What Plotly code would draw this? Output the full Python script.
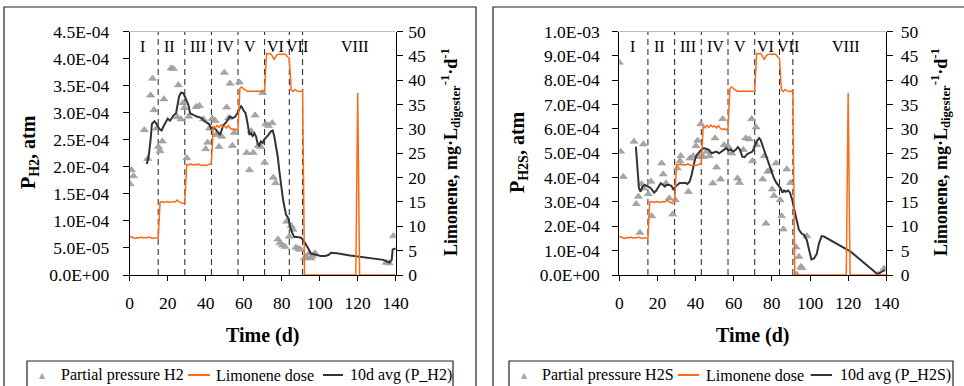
import plotly.graph_objects as go

# ---------------- data ----------------
dose_day = list(range(141))
dose_val = [
    7.7, 7.9, 7.6, 7.5, 7.7, 7.6, 7.8, 7.6, 7.7, 7.6, 7.8, 7.6, 7.5, 7.6, 7.6, 7.6,
    15.0, 15.1, 14.9, 15.0, 15.1, 14.9, 15.0, 15.1, 15.0, 15.4, 15.0, 14.8, 14.7, 14.8,
    22.7, 22.6, 22.8, 22.6, 22.7, 22.6, 22.8, 22.6, 22.5, 22.6, 22.5, 22.6, 22.8, 22.9,
    30.6, 30.2, 30.7, 30.3, 30.8, 30.4, 30.6, 30.2, 30.7, 30.1, 29.9, 30.0, 29.8, 30.1,
    38.3, 38.6, 38.2, 38.0, 37.7, 37.8, 37.7, 37.8, 37.7, 37.8, 37.7, 37.8, 37.7, 37.8,
    45.5, 45.4, 45.5, 45.0, 44.2, 45.0, 45.3, 45.4, 45.3, 45.4, 45.3, 44.8, 44.5,
    38.0, 37.7, 38.1, 37.8, 37.7, 37.7, 37.8,
    0, 0, 0, 0, 0, 0, 0, 0, 0, 0, 0, 0, 0, 0, 0, 0, 0, 0, 0, 0,
    0, 0, 0, 0, 0, 0, 0, 0, 37.4, 0, 0, 0, 0, 0, 0, 0, 0, 0, 0, 0,
    0, 0, 0, 0, 0, 0, 0, 0, 0,
]

# partial pressure H2 (units of 1E-04 atm)
h2_day = [0.2, 1, 2, 7.7, 9.5, 11, 12, 12.8, 14.2, 15.1, 16, 17.2, 18, 21.8, 23, 25.1, 25.6,
          27, 28, 28.8, 30, 31, 35, 36.7, 38.8, 40, 41, 42, 43.5, 45, 45.4, 47, 48.4, 49.8,
          51, 52, 52.8, 54, 55, 57.7, 61.6, 63, 63.9, 65, 66, 67.7, 69, 70, 71, 71.6, 73, 75,
          75.6, 76.8, 78, 79, 80.4, 81.8, 82.6, 84, 85, 86, 87.5, 89, 90, 92, 93, 94.6, 95.4,
          96.3, 97.5, 135, 136.5, 138.8]
h2_val = [1.68, 1.94, 1.83, 2.68, 2.15, 3.32, 3.63, 3.05, 2.71, 2.37, 2.29, 2.47, 3.25, 3.82,
          3.81, 2.92, 3.51, 2.88, 3.18, 3.09, 2.16, 2.93, 3.11, 3.13, 2.88, 2.33, 2.45, 2.71,
          2.89, 2.85, 2.59, 2.37, 2.56, 3.74, 3.10, 2.90, 3.54, 2.39, 2.63, 3.56, 2.26, 1.94,
          2.66, 2.26, 2.95, 2.39, 2.37, 3.37, 2.08, 2.79, 2.76, 2.81, 1.80, 1.70, 0.66, 0.59,
          0.55, 0.52, 0.99, 0.71, 0.91, 0.84, 0.51, 0.48, 0.47, 0.31, 0.34, 0.40, 0.31, 0.35,
          0.40, 0.23, 0.22, 0.72]

h2_avg_day = [9, 10, 11, 11.7, 13, 14.2, 15.6, 16.8, 17.7, 19, 20, 21.2, 22.5, 23.3, 24.4, 25,
              26, 27, 28.2, 29, 30, 30.9, 31.8, 33, 34, 35.3, 36.7, 37.9, 39, 40.5, 41.8, 42.8,
              44, 45.3, 46.7, 47.5, 48.4, 49.3, 50.5, 51.6, 52.8, 54, 55.4, 56.7, 57.7, 58.6,
              59.8, 61, 62, 63, 63.9, 64.7, 65.6, 66.5, 67.4, 68.2, 69, 70, 70.7, 71.8, 73,
              74.2, 75.3, 76.1, 77, 77.9, 78.8, 79.6, 80.5, 81.4, 82.3, 83.5, 84.4, 85.6, 86.7,
              88.2, 90.2, 91.4, 92.8, 94, 95.3, 96.7, 98.4, 100.5, 102.8, 104.6, 106, 109, 116,
              124.7, 133.5, 136.7, 137.9, 138.4, 140]
h2_avg_val = [2.05, 2.20, 2.50, 2.79, 2.84, 2.79, 2.70, 2.67, 2.74, 2.84, 2.89, 2.85, 2.92,
              2.96, 2.99, 3.10, 3.30, 3.37, 3.36, 3.30, 3.22, 3.14, 2.99, 2.96, 2.95, 2.93,
              2.91, 2.90, 2.85, 2.82, 2.79, 2.71, 2.73, 2.69, 2.62, 2.59, 2.68, 2.77, 2.81,
              2.88, 2.93, 2.90, 2.92, 2.99, 3.08, 3.13, 3.05, 2.99, 2.81, 2.59, 2.62, 2.57,
              2.62, 2.56, 2.42, 2.39, 2.47, 2.44, 2.50, 2.54, 2.59, 2.65, 2.67, 2.56, 2.40,
              2.19, 1.91, 1.66, 1.45, 1.26, 1.11, 1.05, 0.89, 0.77, 0.70, 0.70, 0.69, 0.64,
              0.57, 0.49, 0.40, 0.39, 0.37, 0.35, 0.35, 0.37, 0.41, 0.40, 0.36, 0.32, 0.28,
              0.23, 0.28, 0.47, 0.49]

# partial pressure H2S (units of 1E-04 atm)
h2s_day = [0, 0.7, 2.1, 7.7, 8.9, 10, 10.8, 11.7, 12.6, 12.9, 15.2, 16.6, 17, 22.2, 23, 24.5,
           26.2, 28, 29.4, 30.4, 31.8, 32.2, 36.2, 37, 38.8, 40.2, 41, 42, 42.7, 44, 45.8,
           47.2, 49, 50.2, 51, 53.1, 54.2, 55, 57.2, 58.9, 62, 63, 65, 66.3, 68.2, 69.4, 69.8,
           71.7, 72, 75.2, 76, 76.9, 77.8, 79, 80.2, 81.1, 82.2, 84.3, 85.1, 86, 87.8, 89.8,
           92.7, 93, 94.2, 95.2, 95.8, 98.3, 135.8, 138.8]
h2s_val = [8.73, 5.07, 4.04, 5.48, 2.92, 3.22, 1.74, 3.74, 5.37, 3.56, 3.33, 3.84, 2.42, 4.59,
           4.14, 3.77, 3.15, 2.49, 3.08, 4.38, 4.68, 4.89, 3.42, 4.79, 4.89, 5.30, 5.52, 4.86,
           6.20, 4.86, 5.07, 4.89, 3.77, 5.62, 4.42, 3.93, 6.41, 5.34, 5.27, 5.00, 3.97, 3.79,
           5.14, 5.62, 5.58, 6.41, 4.68, 6.07, 5.34, 3.93, 4.89, 2.12, 4.25, 4.32, 3.52, 3.25,
           4.59, 3.08, 2.42, 1.88, 4.34, 3.79, 1.14, 0.02, 0.75, 0.34, 0.29, 1.60, 0.02, 0.27]

h2s_avg_day = [8.7, 9.4, 10.3, 11.2, 12.1, 13.3, 14.7, 15.9, 17, 18.2, 19.4, 20.5, 21.7, 22.9,
               23.8, 24.8, 26, 27.3, 28.3, 29.5, 30.8, 31.8, 33, 34.4, 35.7, 36.9, 37.9, 38.8,
               39.7, 40.6, 41.8, 43, 44.4, 45.8, 47, 48.4, 49.7, 50.9, 52.3, 53.5, 54.9, 56.1,
               57.2, 58.4, 59.8, 61, 62.2, 63.3, 64.5, 65.7, 67.1, 68.4, 69.8, 71, 72, 73.3,
               74.1, 75, 76.2, 77.6, 79, 80.2, 81.1, 82.3, 83.4, 84.6, 85.5, 86.4, 87.2, 88.5,
               89.5, 90.7, 92, 93, 94.2, 95.5, 96.9, 98.3, 99.5, 100.7, 102.1, 103.5, 104.7,
               106.1, 107.3, 121.3, 135.3, 137.9, 139.2]
h2s_avg_val = [5.27, 4.45, 3.56, 3.42, 3.63, 3.70, 3.66, 3.60, 3.52, 3.38, 3.47, 3.63, 3.77,
               3.70, 3.63, 3.70, 3.70, 3.66, 3.52, 3.63, 3.70, 3.79, 3.77, 3.79, 3.74, 3.84,
               4.11, 4.45, 4.75, 4.93, 5.03, 5.14, 5.21, 5.16, 5.14, 5.00, 5.03, 5.07, 5.00,
               5.07, 5.14, 5.21, 5.11, 5.16, 5.07, 5.14, 5.25, 5.14, 4.86, 4.84, 4.97, 5.03,
               5.07, 5.27, 5.48, 5.62, 5.55, 5.34, 5.07, 4.79, 4.45, 4.18, 3.97, 3.79, 3.70,
               3.56, 3.38, 3.47, 3.42, 3.47, 3.38, 3.08, 2.60, 2.19, 1.85, 1.71, 1.64, 1.44,
               1.03, 0.64, 0.68, 0.86, 1.30, 1.60, 1.58, 0.96, 0.04, 0.14, 0.20]

phase_bounds = [15, 29, 43, 57, 71, 84, 91]
phase_labels = ["I", "II", "III", "IV", "V", "VI", "VII", "VIII"]
phase_label_days = [6.8, 21, 36, 50.4, 63.5, 76.5, 88.2, 118.8]

h2_ticks = [0, 0.5e-4, 1.0e-4, 1.5e-4, 2.0e-4, 2.5e-4, 3.0e-4, 3.5e-4, 4.0e-4, 4.5e-4]
h2_ticktext = ["0.0E+00", "5.0E-05", "1.0E-04", "1.5E-04", "2.0E-04", "2.5E-04",
               "3.0E-04", "3.5E-04", "4.0E-04", "4.5E-04"]
h2s_ticks = [0, 1e-4, 2e-4, 3e-4, 4e-4, 5e-4, 6e-4, 7e-4, 8e-4, 9e-4, 1e-3]
h2s_ticktext = ["0.0E+00", "1.0E-04", "2.0E-04", "3.0E-04", "4.0E-04", "5.0E-04",
                "6.0E-04", "7.0E-04", "8.0E-04", "9.0E-04", "1.0E-03"]
dose_ticks = [0, 5, 10, 15, 20, 25, 30, 35, 40, 45, 50]

legend_left = ["Partial pressure H2", "Limonene dose", "10d avg (P_H2)"]
legend_right = ["Partial pressure H2S", "Limonene dose", "10d avg (P_H2S)"]

# ---------------- styling ----------------
W, H = 964, 386
FONT = "Liberation Serif"
TICKSIZE = 17.5
GRAY_MARK = "#a6a6a6"
ORANGE = "#ff6a13"
DARK = "#333333"


def px(xp):
    return xp / W


def py(yp):
    return (H - yp) / H


ydom = [py(275), py(31.5)]
xdom1 = [px(129.7), px(395.7)]
xdom2 = [px(619.3), px(886.3)]

fig = go.Figure()
mk = dict(symbol="triangle-up", size=7, color=GRAY_MARK, line=dict(width=0.5, color="#8c8c8c"))

# left panel
fig.add_trace(go.Scatter(x=h2_day, y=[v * 1e-4 for v in h2_val], mode="markers",
                         name=legend_left[0], xaxis="x", yaxis="y", marker=mk))
fig.add_trace(go.Scatter(x=dose_day, y=dose_val, mode="lines", name=legend_left[1],
                         xaxis="x", yaxis="y2", line=dict(color=ORANGE, width=1.5)))
fig.add_trace(go.Scatter(x=h2_avg_day, y=[v * 1e-4 for v in h2_avg_val], mode="lines",
                         name=legend_left[2], xaxis="x", yaxis="y",
                         line=dict(color=DARK, width=2)))
# right panel
fig.add_trace(go.Scatter(x=h2s_day, y=[v * 1e-4 for v in h2s_val], mode="markers",
                         name=legend_right[0], xaxis="x2", yaxis="y3", marker=mk))
fig.add_trace(go.Scatter(x=dose_day, y=dose_val, mode="lines", name=legend_right[1],
                         xaxis="x2", yaxis="y4", line=dict(color=ORANGE, width=1.5)))
fig.add_trace(go.Scatter(x=h2s_avg_day, y=[v * 1e-4 for v in h2s_avg_val], mode="lines",
                         name=legend_right[2], xaxis="x2", yaxis="y3",
                         line=dict(color=DARK, width=2)))

tickfont = dict(family=FONT, size=TICKSIZE, color="black")
xcommon = dict(range=[0, 140], tickvals=[0, 20, 40, 60, 80, 100, 120, 140],
               ticks="outside", ticklen=5, tickcolor="black", showline=True,
               linecolor="black", linewidth=1, showgrid=False, zeroline=False,
               tickfont=tickfont, ticklabelstandoff=7, automargin=False)
ycommon = dict(ticks="outside", ticklen=6, tickcolor="black", showline=True,
               linecolor="black", linewidth=1, showgrid=False, zeroline=False,
               tickfont=tickfont, domain=ydom, automargin=False)

fig.update_layout(
    width=W, height=H, margin=dict(l=0, r=0, t=0, b=0, pad=0, autoexpand=False),
    paper_bgcolor="white", plot_bgcolor="white",
    font=dict(family=FONT, color="black"),
    showlegend=False,
    xaxis=dict(domain=xdom1, anchor="y", **xcommon),
    yaxis=dict(anchor="x", range=[0, 4.5e-4], tickvals=h2_ticks, ticktext=h2_ticktext,
               ticklabelstandoff=10, **ycommon),
    yaxis2=dict(anchor="x", overlaying="y", side="right", range=[0, 50],
                tickvals=dose_ticks, ticklabelstandoff=2, **ycommon),
    xaxis2=dict(domain=xdom2, anchor="y3", **xcommon),
    yaxis3=dict(anchor="x2", range=[0, 1e-3], tickvals=h2s_ticks, ticktext=h2s_ticktext,
                ticklabelstandoff=9, **ycommon),
    yaxis4=dict(anchor="x2", overlaying="y3", side="right", range=[0, 50],
                tickvals=dose_ticks, ticklabelstandoff=4, **ycommon),
)

shapes = []
# outer frames
shapes.append(dict(type="rect", xref="paper", yref="paper", x0=px(4), x1=px(476),
                   y0=-0.1, y1=py(7), line=dict(color="#222222", width=1.2)))
shapes.append(dict(type="rect", xref="paper", yref="paper", x0=px(493), x1=1.1,
                   y0=-0.1, y1=py(7), line=dict(color="#222222", width=1.2)))
for xr, yr in (("x", "y"), ("x2", "y3")):
    shapes.append(dict(type="line", xref=xr + " domain", yref=yr + " domain",
                       x0=0, x1=1, y0=1, y1=1, line=dict(color="#bdbdbd", width=1.2)))
    for b in phase_bounds:
        shapes.append(dict(type="line", xref=xr, yref=yr + " domain", x0=b, x1=b,
                           y0=0, y1=1, layer="below",
                           line=dict(color="#222222", width=1, dash="6px,4px")))

ann = []
ylab = ydom[0] + 0.94 * (ydom[1] - ydom[0])
for xr in ("x", "x2"):
    for lab, d in zip(phase_labels, phase_label_days):
        ann.append(dict(x=d, y=ylab, xref=xr, yref="paper", text=lab,
                        showarrow=False, font=dict(family=FONT, size=16, color="black"),
                        xanchor="center", yanchor="middle"))

title_font = dict(family=FONT, size=20, color="black")
lim_font = dict(family=FONT, size=18, color="black")
ann.append(dict(x=px(262.7), y=py(335), xref="paper", yref="paper", text="<b>Time (d)</b>",
                showarrow=False, font=title_font, xanchor="center", yanchor="middle"))
ann.append(dict(x=px(752.8), y=py(335), xref="paper", yref="paper", text="<b>Time (d)</b>",
                showarrow=False, font=title_font, xanchor="center", yanchor="middle"))
ann.append(dict(x=px(30), y=py(152), xref="paper", yref="paper",
                text="<b>P<sub>H2</sub>, atm</b>", textangle=-90, showarrow=False,
                font=title_font, xanchor="center", yanchor="middle"))
ann.append(dict(x=px(519), y=py(152), xref="paper", yref="paper",
                text="<b>P<sub>H2S</sub>, atm</b>", textangle=-90, showarrow=False,
                font=title_font, xanchor="center", yanchor="middle"))
lim_title = "<b>Limonene, mg·L<sub>digester</sub><sup>-1</sup>·d<sup>-1</sup></b>"
ann.append(dict(x=px(451), y=py(152), xref="paper", yref="paper", text=lim_title,
                textangle=-90, showarrow=False, font=lim_font,
                xanchor="center", yanchor="middle"))
ann.append(dict(x=px(941), y=py(152), xref="paper", yref="paper", text=lim_title,
                textangle=-90, showarrow=False, font=lim_font,
                xanchor="center", yanchor="middle"))

# legend boxes (drawn as shapes + text)
leg_font = dict(family=FONT, size=16, color="black")
ly = py(375)
for (bx0, bx1, tri_x, txt_x, orange_seg, dark_seg, names) in (
        (27, 453, 42.7, [59, 214, 348], (188, 210), (323, 343), legend_left),
        (509, 953, 524.7, [540, 704, 838], (678, 699), (810.7, 832), legend_right)):
    shapes.append(dict(type="rect", xref="paper", yref="paper", x0=px(bx0), x1=px(bx1),
                       y0=-0.05, y1=py(361), line=dict(color="#222222", width=1.2),
                       fillcolor="white"))
    shapes.append(dict(type="line", xref="paper", yref="paper", x0=px(orange_seg[0]),
                       x1=px(orange_seg[1]), y0=ly, y1=ly, line=dict(color=ORANGE, width=2)))
    shapes.append(dict(type="line", xref="paper", yref="paper", x0=px(dark_seg[0]),
                       x1=px(dark_seg[1]), y0=ly, y1=ly, line=dict(color=DARK, width=2)))
    ann.append(dict(x=px(tri_x), y=ly, xref="paper", yref="paper", text="▲",
                    showarrow=False, font=dict(family="DejaVu Sans", size=8, color=GRAY_MARK),
                    xanchor="center", yanchor="middle"))
    for nm, tx in zip(names, txt_x):
        ann.append(dict(x=px(tx), y=ly, xref="paper", yref="paper", text=nm,
                        showarrow=False, font=leg_font, xanchor="left", yanchor="middle"))

fig.update_layout(shapes=shapes, annotations=ann)
fig.write_html(
    "out.html",
    config={"displayModeBar": False},
    post_script="document.body.style.margin='0';document.body.style.padding='0';"
                "document.documentElement.style.overflow='hidden';",
)
